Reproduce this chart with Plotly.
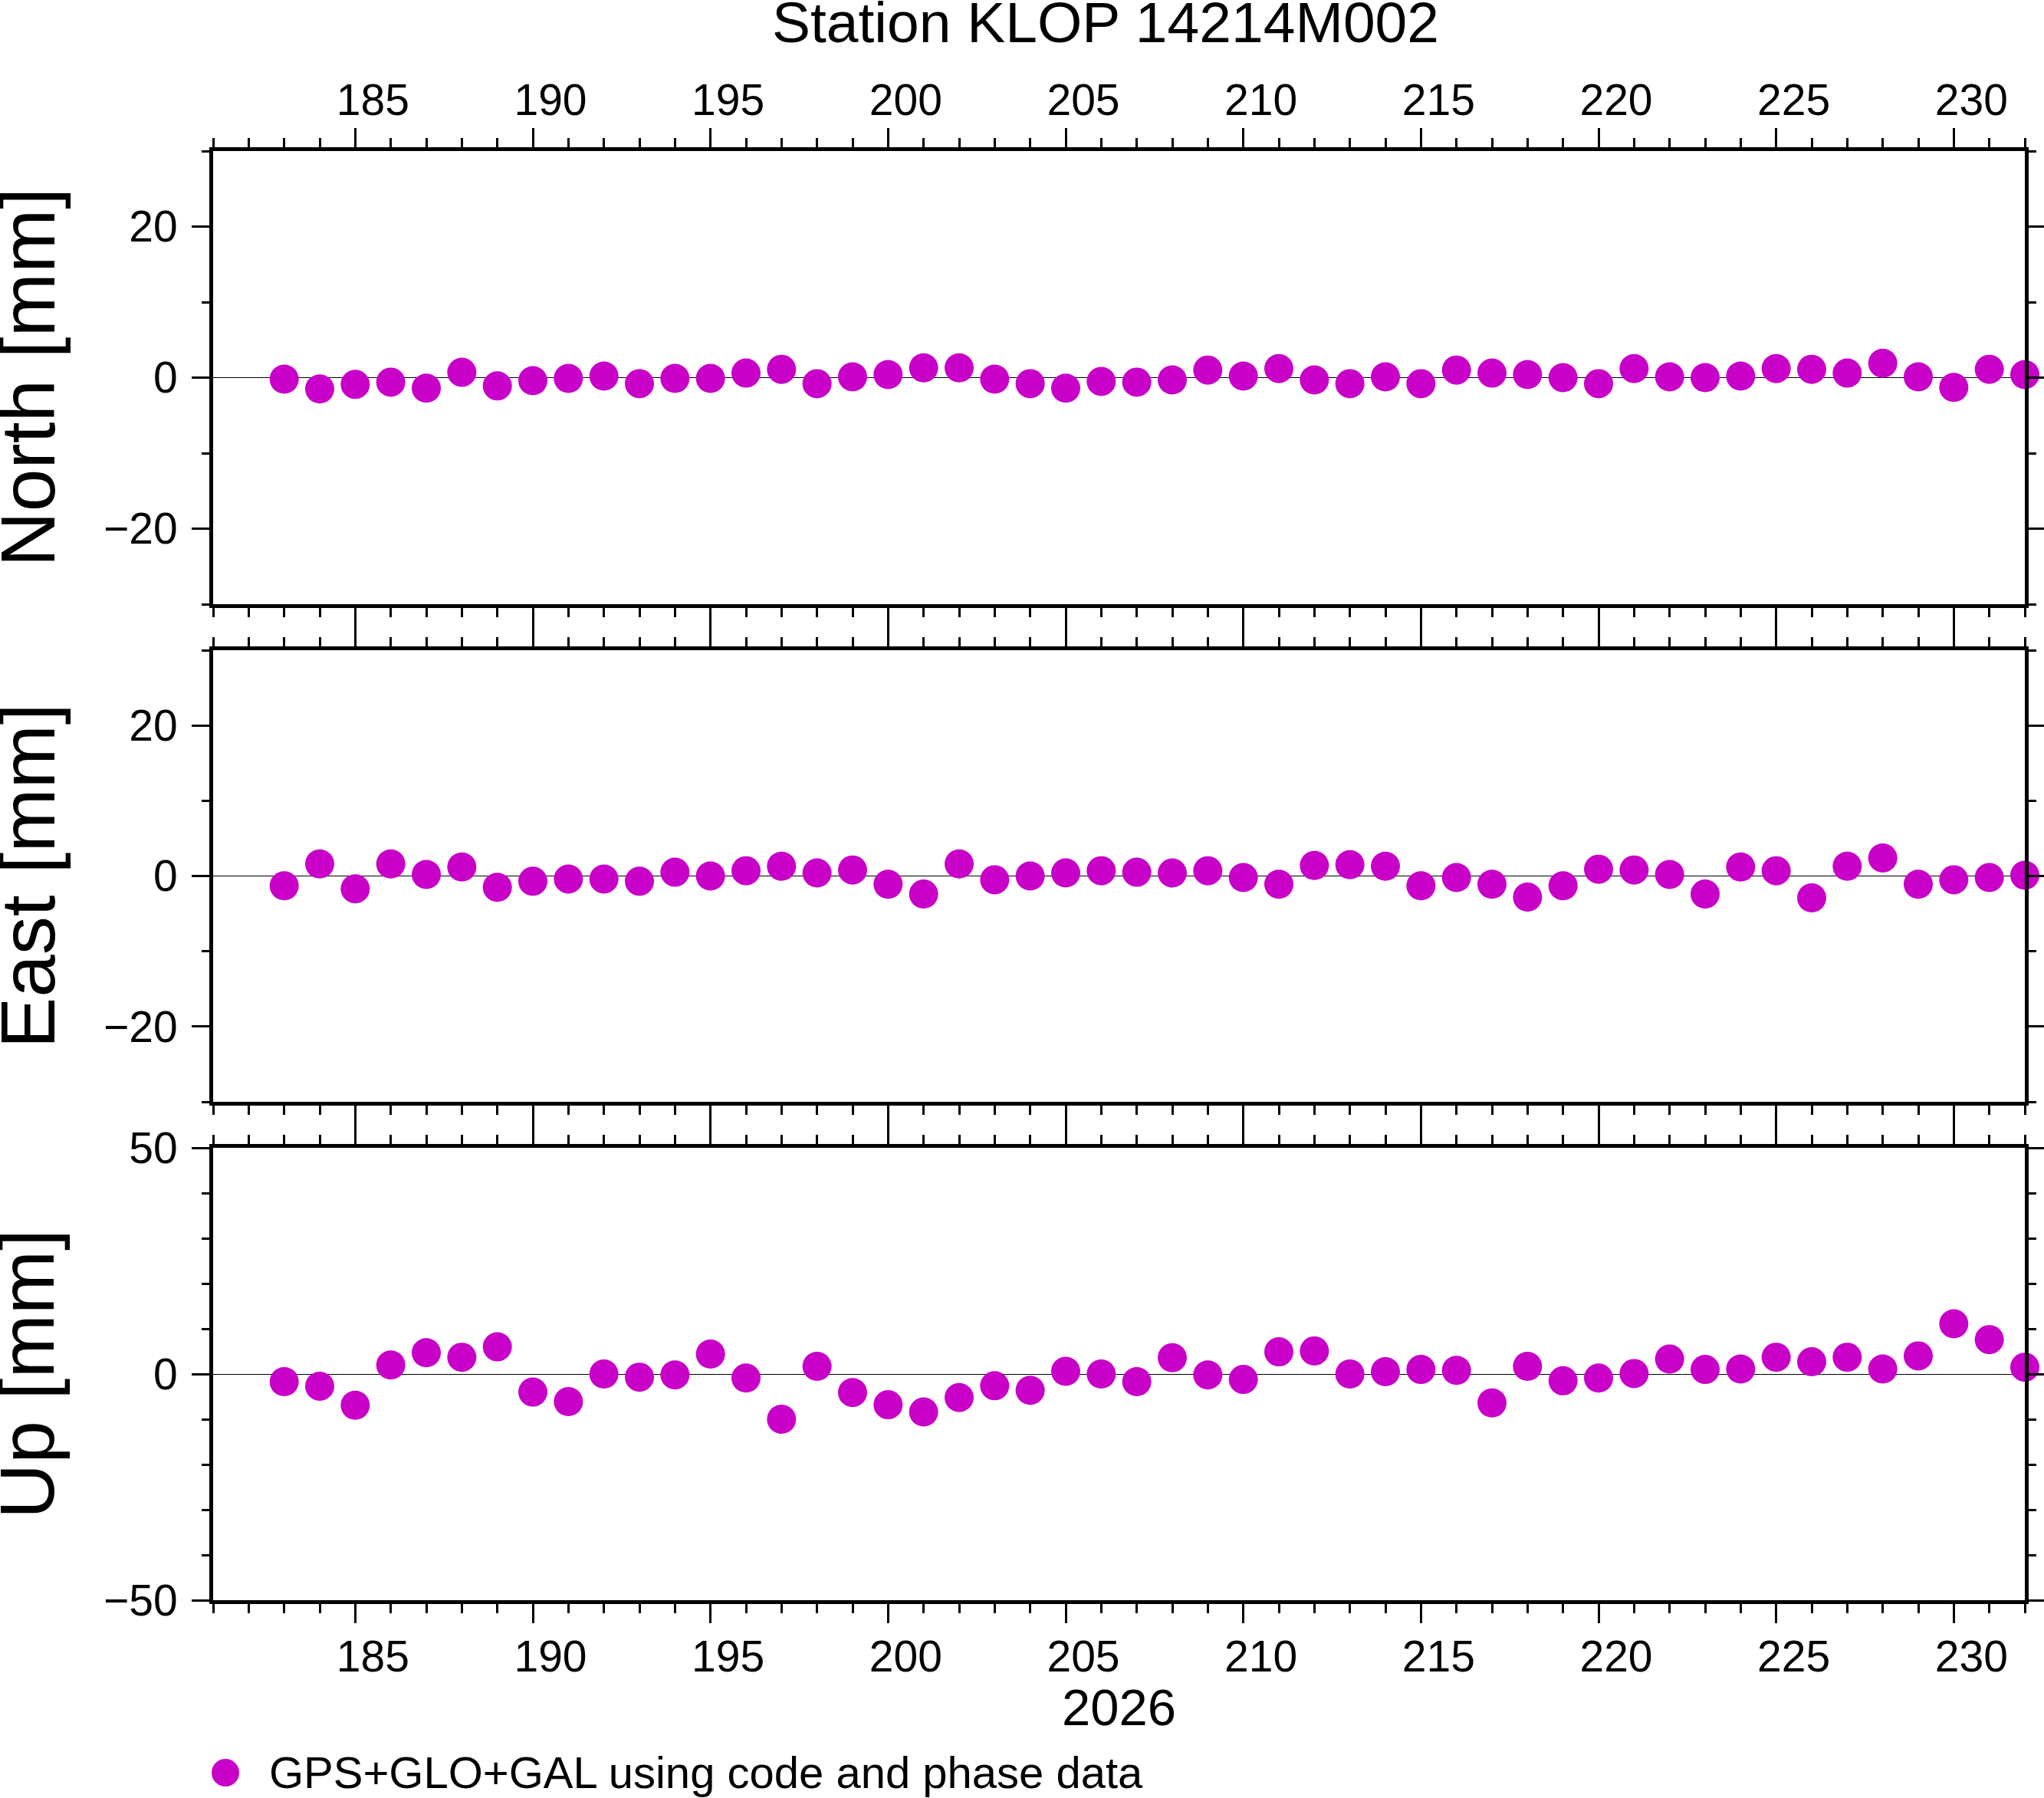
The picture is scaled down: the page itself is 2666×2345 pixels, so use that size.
import plotly.graph_objects as go

# day of year 2026
days = list(range(183, 233))

north = [-0.2, -1.5, -0.9, -0.6, -1.4, 0.7, -1.1, -0.4, -0.1, 0.2, -0.8, -0.1,
         -0.1, 0.6, 1.1, -0.8, 0.1, 0.4, 1.3, 1.3, -0.2, -0.8, -1.4, -0.5,
         -0.6, -0.3, 1.0, 0.2, 1.2, -0.3, -0.8, 0.1, -0.8, 1.0, 0.6, 0.4,
         0.0, -0.8, 1.2, 0.1, 0.0, 0.2, 1.2, 1.1, 0.6, 1.9, 0.1, -1.3, 1.1, 0.4]
east = [-1.3, 1.6, -1.7, 1.6, 0.2, 1.2, -1.5, -0.7, -0.4, -0.4, -0.7, 0.5,
        0.0, 0.7, 1.3, 0.4, 0.8, -1.1, -2.4, 1.6, -0.5, 0.0, 0.4, 0.7,
        0.5, 0.4, 0.7, -0.2, -1.1, 1.4, 1.5, 1.3, -1.3, -0.2, -1.1, -2.8,
        -1.3, 0.9, 0.8, 0.2, -2.4, 1.2, 0.7, -2.9, 1.3, 2.4, -1.1, -0.5, -0.2, 0.1]
up = [-1.7, -2.7, -6.9, 2.0, 4.7, 3.7, 6.0, -4.0, -6.1, 0.0, -0.7, -0.2,
      4.4, -0.9, -10.0, 1.7, -4.1, -6.8, -8.4, -5.2, -2.6, -3.6, 0.6, 0.0,
      -1.7, 3.6, -0.2, -1.2, 4.9, 5.1, 0.0, 0.5, 1.0, 0.8, -6.4, 1.7,
      -1.5, -0.9, 0.1, 3.3, 1.0, 1.1, 3.7, 2.7, 3.7, 1.1, 4.0, 11.1, 7.6, 1.5]

x_ticks = [185, 190, 195, 200, 205, 210, 215, 220, 225, 230]
x_range = [181, 232]
ne_ticks = [-20, 0, 20]
up_ticks = [-50, 0, 50]

title = "Station KLOP 14214M002"
legend_name = "GPS+GLO+GAL using code and phase data"
year_label = "2026"

W, H = 2666, 2345
FONT = "Liberation Sans, Arial, Helvetica, sans-serif"
COL = "#c800c8"

fig = go.Figure()

panels = [("y", north, "North [mm]"), ("y2", east, "East [mm]"), ("y3", up, "Up [mm]")]
for i, (ya, vals, lab) in enumerate(panels):
    fig.add_trace(go.Scatter(
        x=days, y=vals, mode="markers",
        xaxis="x" if i == 0 else "x%d" % (i + 1), yaxis=ya,
        marker=dict(color=COL, size=38, line=dict(width=0)),
        cliponaxis=False, name=legend_name, showlegend=False
    ))

# pixel positions of the frames (top, bottom)
frames = [(197, 788), (848, 1437), (1497, 2087)]
xl, xr = 278, 2641
xdom = [xl / W, xr / W]

xcommon = dict(
    range=x_range, domain=xdom, automargin=False,
    showline=True, linewidth=5, linecolor="black", mirror="ticks",
    ticks="outside", tickvals=x_ticks, ticklen=25, tickwidth=2.5, tickcolor="black",
    minor=dict(dtick=1, tick0=0, ticks="outside", ticklen=12, tickwidth=2.5, tickcolor="black"),
    showgrid=False, zeroline=False,
    tickfont=dict(family=FONT, size=57, color="black"),
    ticklabelshift=23,
)
ycommon = dict(
    automargin=False,
    showline=True, linewidth=5, linecolor="black", mirror="ticks",
    ticks="outside", ticklen=23, tickwidth=2.5, tickcolor="black",
    showgrid=False, zeroline=True, zerolinecolor="black", zerolinewidth=1.2,
    tickfont=dict(family=FONT, size=57, color="black"),
    ticklabelstandoff=7,
)

layout = dict(
    width=W, height=H,
    margin=dict(l=0, r=0, t=0, b=0, autoexpand=False),
    plot_bgcolor="white", paper_bgcolor="white",
    font=dict(family=FONT, color="black"),
    showlegend=False,
    title=dict(text=title, x=1442 / W, xanchor="center", xref="paper",
               y=1 - 29 / H, yanchor="middle", yref="container",
               font=dict(family=FONT, size=75, color="black")),
)

for i, (top, bot) in enumerate(frames):
    key = "" if i == 0 else str(i + 1)
    ydom = [1 - bot / H, 1 - top / H]
    xa = dict(xcommon, anchor="y" + key)
    if i == 0:
        xa.update(side="top", showticklabels=True, ticklabelstandoff=-6)
    elif i == 1:
        xa.update(showticklabels=False)
    else:
        xa.update(side="bottom", showticklabels=True, ticklabelstandoff=-5)
    ya = dict(ycommon, domain=ydom, anchor="x" + key)
    if i < 2:
        ya.update(range=[-30, 30], tickvals=ne_ticks,
                  minor=dict(dtick=10, tick0=0, ticks="outside", ticklen=10,
                             tickwidth=2.5, tickcolor="black"))
    else:
        ya.update(range=[-50, 50], tickvals=up_ticks,
                  minor=dict(dtick=10, tick0=0, ticks="outside", ticklen=10,
                             tickwidth=2.5, tickcolor="black"))
    layout["xaxis" + key] = xa
    layout["yaxis" + key] = ya

fig.update_layout(**layout)

annots = []
for (top, bot), (_, _, lab) in zip(frames, panels):
    annots.append(dict(text=lab, x=35 / W, y=1 - (top + bot) / 2 / H,
                       xref="paper", yref="paper", textangle=-90,
                       xanchor="center", yanchor="middle", showarrow=False,
                       font=dict(family=FONT, size=100, color="black")))
annots.append(dict(text=year_label, x=(xl + xr) / 2 / W, y=1 - 2226 / H,
                   xref="paper", yref="paper", xanchor="center", yanchor="middle",
                   showarrow=False, font=dict(family=FONT, size=67, color="black")))
# legend entry: symbol and label
annots.append(dict(text=legend_name, x=349 / W, y=1 - 2311 / H,
                   xref="paper", yref="paper", xanchor="left", yanchor="middle",
                   showarrow=False, font=dict(family=FONT, size=58, color="black")))
fig.update_layout(annotations=annots)
fig.add_shape(type="circle", xref="paper", yref="paper",
              xsizemode="pixel", ysizemode="pixel",
              xanchor=294 / W, yanchor=1 - 2312 / H,
              x0=-18, x1=18, y0=-18, y1=18,
              fillcolor=COL, line=dict(width=0))

# drop the default page margin so the figure sits at the window corner
fig.write_html("out.html", config={"displayModeBar": False},
               post_script="document.body.style.margin = '0';")
